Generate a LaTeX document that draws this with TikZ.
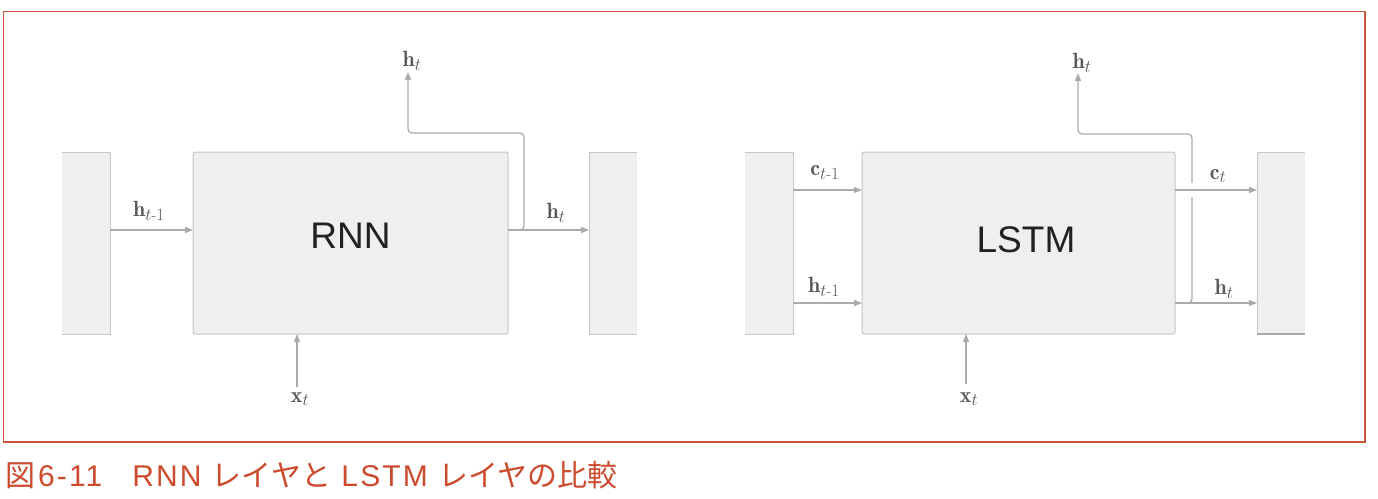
\documentclass[tikz,border=0pt]{standalone}
\usepackage{amsmath}
\usepackage{fontspec}
\newfontfamily\cjkfont{Noto Sans CJK JP}
\newfontfamily\cellfont{Liberation Sans}
\newfontfamily\captlatin[LetterSpace=7]{Liberation Sans}
\DeclareMathSizes{22}{22}{16}{12}
\usetikzlibrary{arrows.meta}
\definecolor{boxfill}{HTML}{EFEFEF}
\definecolor{boxline}{HTML}{C6C6C6}
\definecolor{arrgray}{HTML}{AAAAAA}
\definecolor{labgray}{HTML}{595959}
\definecolor{framered}{HTML}{C9543C}
\definecolor{captred}{HTML}{CC4A2E}
\definecolor{stubdark}{HTML}{A8A8A8}
\begin{document}
\begin{tikzpicture}[x=1pt,y=-1pt,
  cell/.style={draw=boxline, fill=boxfill, line width=1pt, rounded corners=2pt,
    minimum height=182pt, inner sep=0pt, outer sep=0pt, anchor=north west},
  stub/.style={fill=boxfill, minimum width=48pt, minimum height=182pt,
    inner sep=0pt, outer sep=0pt, anchor=north west},
  stubedge/.style={draw=boxline, line width=1pt},
  conn/.style={draw=arrgray, line width=1.2pt, -{Triangle[length=8pt,width=6pt]}},
  lab/.style={text=labgray, font=\fontsize{22}{26}\selectfont, inner sep=0pt},
  cellname/.style={font=\cellfont\fontsize{37}{40}\selectfont, text=black!87, inner sep=0pt}]
\useasboundingbox (0,0) rectangle (1378,498);

% frame
\draw[framered, line width=1.2pt] (3.5,11.5) rectangle (1365,442);

% ---------------- RNN ----------------
\node[stub] (L1) at (62,152) {};
\node[cell, minimum width=315pt] (rnn) at (193,152) {};
\node[stub] (R1) at (589,152) {};
\draw[stubedge] (L1.north west) -- (L1.north east) -- (L1.south east) -- (L1.south west);
\draw[stubedge] (R1.north east) -- (R1.north west) -- (R1.south west) -- (R1.south east);
\node[cellname] (rnnname) at (350.5,236) {RNN};

\coordinate (rnnrow) at (0,230);
\coordinate (rnnbend) at (524,133);
\coordinate (rnnup) at (408,72);
\coordinate (rnnxbase) at (297,387);

\draw[conn] (L1.east |- rnnrow) -- (rnn.west |- rnnrow);
\draw[conn] (rnn.east |- rnnrow) -- (R1.west |- rnnrow);
\draw[conn, rounded corners=4pt] (rnn.east |- rnnrow) -- (rnnbend |- rnnrow) -- (rnnbend) -- (rnnup |- rnnbend) -- (rnnup);
\draw[conn] (rnnxbase) -- (rnnxbase |- rnn.south);

\node[lab] (rh1) at (149,211) {$\mathbf{h}_{t\text{-}1}$};
\node[lab] (rh2) at (556,213) {$\mathbf{h}_{t}$};
\node[lab] (rh3) at (412,61) {$\mathbf{h}_{t}$};
\node[lab] (rx) at (300,399) {$\mathbf{x}_{t}$};

% ---------------- LSTM ----------------
\node[stub] (L2) at (745,152) {};
\node[cell, minimum width=313pt] (lstm) at (862,152) {};
\node[stub] (R2) at (1257,152) {};
\draw[stubedge] (L2.north west) -- (L2.north east) -- (L2.south east) -- (L2.south west);
\draw[stubedge] (R2.north east) -- (R2.north west) -- (R2.south west);
\draw[stubdark, line width=2pt] (R2.south west) -- (R2.south east);
\node[cellname] (lstmname) at (1026,240) {LSTM};

\coordinate (crow) at (0,190);
\coordinate (hrow) at (0,303);
\coordinate (lbend) at (1192,134);
\coordinate (lup) at (1078,73);
\coordinate (lxbase) at (966,384);
\coordinate (gapa) at (1192,183);
\coordinate (gapb) at (1192,197);

\draw[conn] (L2.east |- crow) -- (lstm.west |- crow);
\draw[conn] (L2.east |- hrow) -- (lstm.west |- hrow);
\draw[conn] (lstm.east |- hrow) -- (R2.west |- hrow);
\draw[conn, rounded corners=4pt] (lstm.east |- hrow) -- (lbend |- hrow) -- (lbend) -- (lup |- lbend) -- (lup);
\draw[white, line width=5pt] (gapa) -- (gapb);
\draw[conn] (lstm.east |- crow) -- (R2.west |- crow);
\draw[conn] (lxbase) -- (lxbase |- lstm.south);

\node[lab] (lc1) at (825,173) {$\mathbf{c}_{t\text{-}1}$};
\node[lab] (lh1) at (824,287) {$\mathbf{h}_{t\text{-}1}$};
\node[lab] (lc2) at (1218,176) {$\mathbf{c}_{t}$};
\node[lab] (lh2) at (1224,289) {$\mathbf{h}_{t}$};
\node[lab] (lh3) at (1082,63) {$\mathbf{h}_{t}$};
\node[lab] (lx) at (969,399) {$\mathbf{x}_{t}$};

% caption
\node[anchor=base west, text=captred, font=\cjkfont\fontsize{30}{34}\selectfont, inner sep=0pt] (caption) at (5,486)
  {図\hspace{3pt}{\captlatin 6-11}　{\captlatin RNN }レイヤと{\captlatin{} LSTM }レイヤの比較};
\end{tikzpicture}
\end{document}
